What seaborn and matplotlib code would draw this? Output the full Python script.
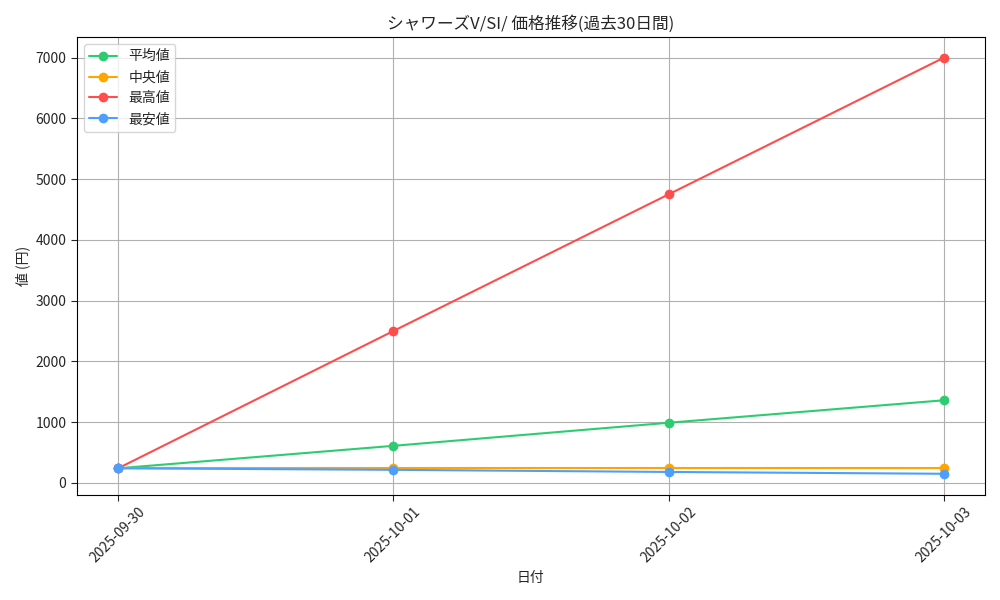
import matplotlib
matplotlib.use('Agg')
import pandas as pd
import seaborn as sns
import matplotlib.pyplot as plt

dates = ['2025-09-30', '2025-10-01', '2025-10-02', '2025-10-03']
avg_vals = [240, 610, 990, 1360]
median_vals = [240, 240, 240, 240]
max_vals = [240, 2500, 4750, 7000]
min_vals = [240, 215, 180, 150]

series_names = ['平均値', '中央値', '最高値', '最安値']
colors = ['#2ecc71', '#ffa500', '#ff4d4d', '#4d9fff']

df = pd.DataFrame({
    '日付': dates * 4,
    '値': avg_vals + median_vals + max_vals + min_vals,
    '系列': [n for n in series_names for _ in dates],
})

sns.set_style('white')
plt.rcParams['font.family'] = ['Noto Sans CJK JP', 'DejaVu Sans']

fig, ax = plt.subplots(figsize=(10, 6), dpi=100)
for name, color in zip(series_names, colors):
    sub = df[df['系列'] == name]
    sns.lineplot(data=sub, x='日付', y='値', ax=ax, color=color, marker='o',
                 markersize=7, markeredgewidth=0, linewidth=1.5, label=name)

ax.set_title('シャワーズV/SI/ 価格推移(過去30日間)', fontsize=12)
ax.set_xlabel('日付')
ax.set_ylabel('値 (円)')
ax.grid(True, color='#b0b0b0', linewidth=0.8)
ax.tick_params(axis='both', which='both', bottom=True, left=True, length=4)
for s in ax.spines.values():
    s.set_color('black')
plt.xticks(rotation=45)
ax.legend(loc='upper left')
plt.tight_layout()
plt.savefig('out.png')
